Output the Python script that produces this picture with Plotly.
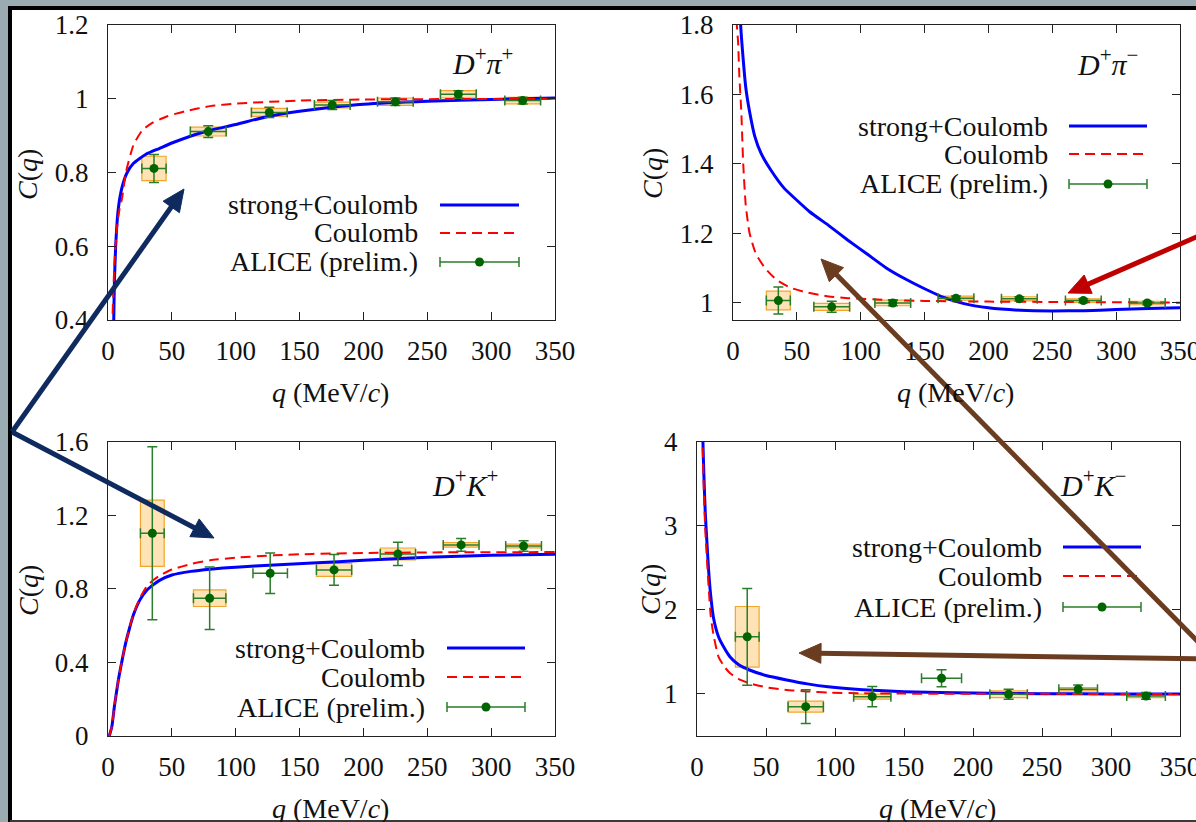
import math
import plotly.graph_objects as go

W, H = 1196, 822
FONT = "Liberation Serif"

# ---------------- data ----------------
x_ticks = [0, 50, 100, 150, 200, 250, 300, 350]

# D+ pi+
pp_q = [36, 78.5, 126.3, 175.6, 225, 274.3, 324.7]
pp_c = [0.811, 0.911, 0.963, 0.983, 0.992, 1.012, 0.995]
pp_qerr = [9.5, 14, 14, 14, 14, 14, 14]
pp_cerr = [0.038, 0.016, 0.014, 0.012, 0.01, 0.01, 0.009]
pp_csys = [0.033, 0.012, 0.011, 0.008, 0.01, 0.01, 0.009]
pp_strong_q = [4, 4.5, 5, 6, 8, 11, 15, 20, 30, 40, 50, 75, 100, 125, 150, 175, 200, 250, 300, 350]
pp_strong_c = [0.2, 0.4, 0.5, 0.6, 0.7, 0.76, 0.8, 0.825, 0.85, 0.865, 0.88, 0.91, 0.93, 0.952, 0.966, 0.977, 0.985, 0.993, 0.998, 1.002]
pp_coul_q = [3, 3.5, 5, 7, 9, 11, 14, 20, 27, 35, 46, 60, 80, 100, 150, 200, 350]
pp_coul_c = [0.2, 0.4, 0.55, 0.65, 0.7, 0.73, 0.8, 0.875, 0.915, 0.935, 0.952, 0.966, 0.98, 0.987, 0.995, 0.998, 1.0]
pp_yticks = [0.4, 0.6, 0.8, 1.0, 1.2]
pp_ylabels = ["0.4", "0.6", "0.8", "1", "1.2"]

# D+ pi-
pm_q = [35.5, 77.3, 125.1, 174.6, 224.2, 274.3, 324.4]
pm_c = [1.006, 0.988, 0.999, 1.013, 1.011, 1.006, 0.999]
pm_qerr = [9.4, 14, 14, 14, 14, 14, 14]
pm_cerr = [0.039, 0.016, 0.008, 0.006, 0.006, 0.006, 0.005]
pm_csys = [0.027, 0.01, 0.008, 0.006, 0.006, 0.005, 0.005]
pm_strong_q = [5, 6, 8, 10, 13, 17, 22, 30, 40, 50, 60, 75, 90, 105, 120, 135, 150, 165, 180, 200, 225, 250, 275, 300, 325, 350]
pm_strong_c = [2.0, 1.8, 1.7, 1.62, 1.55, 1.48, 1.43, 1.38, 1.33, 1.295, 1.262, 1.222, 1.18, 1.14, 1.10, 1.068, 1.04, 1.015, 0.998, 0.985, 0.978, 0.976, 0.977, 0.98, 0.983, 0.985]
pm_coul_q = [2.5, 3, 4, 5, 6.5, 8, 10, 13, 18, 25, 34, 45, 57, 75, 90, 120, 150, 200, 250, 350]
pm_coul_c = [2.0, 1.8, 1.75, 1.65, 1.55, 1.4, 1.28, 1.2, 1.14, 1.1, 1.066, 1.043, 1.03, 1.018, 1.013, 1.008, 1.005, 1.003, 1.002, 1.0]
pm_yticks = [1.0, 1.2, 1.4, 1.6, 1.8]
pm_ylabels = ["1", "1.2", "1.4", "1.6", "1.8"]

# D+ K+
kp_q = [34.7, 79.6, 127, 177, 227, 276.5, 325.4]
kp_c = [1.102, 0.749, 0.885, 0.903, 0.99, 1.039, 1.033]
kp_qerr = [9.3, 12.7, 13.5, 13.8, 13.8, 14, 14]
kp_cerr = [0.47, 0.17, 0.11, 0.084, 0.063, 0.035, 0.028]
kp_csys = [0.18, 0.045, None, 0.035, 0.032, 0.012, 0.01]
kp_strong_q = [1, 3, 5, 8, 11, 14, 17, 20, 25, 30, 35, 40, 50, 65, 80, 100, 130, 160, 200, 250, 300, 350]
kp_strong_c = [0, 0.05, 0.16, 0.3, 0.41, 0.51, 0.59, 0.66, 0.74, 0.79, 0.82, 0.845, 0.875, 0.895, 0.907, 0.918, 0.93, 0.94, 0.955, 0.972, 0.982, 0.988]
kp_coul_q = [1, 3, 5, 8, 11, 14, 17, 20, 25, 30, 35, 40, 50, 65, 80, 100, 130, 160, 200, 250, 350]
kp_coul_c = [0, 0.05, 0.16, 0.3, 0.41, 0.51, 0.59, 0.665, 0.75, 0.81, 0.845, 0.87, 0.905, 0.935, 0.955, 0.97, 0.982, 0.99, 0.995, 0.998, 1.0]
kp_yticks = [0, 0.4, 0.8, 1.2, 1.6]
kp_ylabels = ["0", "0.4", "0.8", "1.2", "1.6"]

# D+ K-
km_q = [36.4, 78.8, 127, 177.2, 225.8, 276.2, 325.4]
km_c = [1.68, 0.849, 0.968, 1.187, 0.996, 1.056, 0.976]
km_qerr = [8.6, 12.8, 13.5, 14.5, 13.6, 14, 14]
km_cerr = [0.575, 0.2, 0.12, 0.1, 0.06, 0.05, 0.04]
km_csys = [0.36, 0.065, 0.03, None, 0.04, 0.02, 0.02]
km_strong_q = [4, 4.3, 5, 6, 7.2, 8.5, 10, 12, 15.6, 20, 24, 30, 38, 50, 65, 80, 95, 120, 150, 200, 250, 300, 350]
km_strong_c = [4.5, 4.0, 3.6, 3.15, 2.8, 2.45, 2.16, 1.9, 1.68, 1.54, 1.44, 1.35, 1.285, 1.22, 1.167, 1.12, 1.085, 1.05, 1.027, 1.01, 1.003, 1.0, 1.0]
km_coul_q = [3.7, 4, 5, 6, 7.2, 8.5, 10, 12, 15.6, 20, 24, 30, 38, 50, 65, 80, 95, 120, 150, 200, 350]
km_coul_c = [4.5, 4.0, 3.4, 2.95, 2.6, 2.25, 1.92, 1.7, 1.44, 1.32, 1.246, 1.18, 1.127, 1.08, 1.048, 1.03, 1.016, 1.008, 1.004, 1.002, 1.0]
km_yticks = [1, 2, 3, 4]
km_ylabels = ["1", "2", "3", "4"]

# ---------------- styling ----------------
BLUE = "#0000ff"
RED = "#ff0000"
GREEN = "#2a7d2a"
DOT = "#006400"
BOX_FILL = "rgba(252,200,110,0.5)"
BOX_LINE = "#f2a52a"
BG = "#9aabb2"
TXT = "#111111"


def fx(p):
    return p / W


def fy(p):
    return 1 - p / H


panels = [
    dict(n="", xd=(108, 555), yd=(25, 320), yr=[0.4, 1.2], yt=pp_yticks, yl=pp_ylabels,
         q=pp_q, c=pp_c, qe=pp_qerr, ce=pp_cerr, cs=pp_csys,
         sq=pp_strong_q, sc=pp_strong_c, cq=pp_coul_q, cc=pp_coul_c,
         title="<i>D</i><sup>+</sup><i>π</i><sup>+</sup>", tpos=(482, 61),
         leg=dict(tx=420, l0=440, l1=519, rows=(205, 233, 262)),
         ytit=(28, 174), xtit=(330, 392)),
    dict(n="2", xd=(733, 1180), yd=(25, 320), yr=[0.95, 1.8], yt=pm_yticks, yl=pm_ylabels,
         q=pm_q, c=pm_c, qe=pm_qerr, ce=pm_cerr, cs=pm_csys,
         sq=pm_strong_q, sc=pm_strong_c, cq=pm_coul_q, cc=pm_coul_c,
         title="<i>D</i><sup>+</sup><i>π</i><sup>−</sup>", tpos=(1107, 62),
         leg=dict(tx=1050, l0=1069, l1=1147, rows=(126, 154, 184)),
         ytit=(653, 174), xtit=(955, 392)),
    dict(n="3", xd=(108, 555), yd=(441.7, 736), yr=[0, 1.6], yt=kp_yticks, yl=kp_ylabels,
         q=kp_q, c=kp_c, qe=kp_qerr, ce=kp_cerr, cs=kp_csys,
         sq=kp_strong_q, sc=kp_strong_c, cq=kp_coul_q, cc=kp_coul_c,
         title="<i>D</i><sup>+</sup><i>K</i><sup>+</sup>", tpos=(465, 483),
         leg=dict(tx=427, l0=447, l1=525, rows=(648, 677, 707)),
         ytit=(28, 590), xtit=(330, 808)),
    dict(n="4", xd=(697, 1180), yd=(441.7, 736), yr=[0.5, 4], yt=km_yticks, yl=km_ylabels,
         q=km_q, c=km_c, qe=km_qerr, ce=km_cerr, cs=km_csys,
         sq=km_strong_q, sc=km_strong_c, cq=km_coul_q, cc=km_coul_c,
         title="<i>D</i><sup>+</sup><i>K</i><sup>−</sup>", tpos=(1093, 483),
         leg=dict(tx=1044, l0=1063, l1=1141, rows=(547, 576, 607)),
         ytit=(650, 590), xtit=(937, 808)),
]

fig = go.Figure()
layout = dict(
    width=W, height=H, autosize=False,
    margin=dict(l=0, r=0, t=0, b=0, pad=0),
    paper_bgcolor=BG, plot_bgcolor="rgba(0,0,0,0)",
    showlegend=False, barmode="overlay",
    font=dict(family=FONT, size=27, color=TXT),
)
shapes = [
    dict(type="rect", xref="paper", yref="paper", x0=fx(10), x1=1.05, y0=fy(821), y1=fy(8),
         fillcolor="white", line=dict(width=0), layer="below"),
    dict(type="line", xref="paper", yref="paper", x0=fx(10), x1=fx(10), y0=fy(822), y1=fy(6),
         line=dict(color="black", width=4), layer="below"),
    dict(type="line", xref="paper", yref="paper", x0=fx(8), x1=1.02, y0=fy(8), y1=fy(8),
         line=dict(color="black", width=4), layer="below"),
    dict(type="line", xref="paper", yref="paper", x0=fx(10), x1=1.02, y0=fy(821), y1=fy(821),
         line=dict(color="#3a3a3a", width=2), layer="below"),
]
annotations = []


def label(text, px, py, size, **kw):
    d = dict(text=text, x=fx(px), y=fy(py), xref="paper", yref="paper", showarrow=False,
             xanchor="center", yanchor="middle", font=dict(family=FONT, size=size, color=TXT))
    d.update(kw)
    annotations.append(d)


for p in panels:
    n = p["n"]
    xa, ya = "x" + n, "y" + n
    axis_common = dict(
        showline=True, linecolor="#222222", linewidth=1.3, mirror="allticks",
        ticks="inside", ticklen=8, tickwidth=1, tickcolor="#222222",
        showgrid=False, zeroline=False, automargin=False, ticklabeloverflow="allow",
        tickfont=dict(family=FONT, size=27, color=TXT),
    )
    layout["xaxis" + n] = dict(
        axis_common, domain=[fx(p["xd"][0]), fx(p["xd"][1])], range=[0, 350],
        tickvals=x_ticks, ticktext=[str(v) for v in x_ticks],
        anchor=ya, ticklabelstandoff=6,
    )
    layout["yaxis" + n] = dict(
        axis_common, domain=[fy(p["yd"][1]), fy(p["yd"][0])], range=p["yr"],
        tickvals=p["yt"], ticktext=p["yl"], anchor=xa, ticklabelstandoff=13,
    )

    # systematic boxes
    bq, bh, bb, bw = [], [], [], []
    for q, c, qe, s in zip(p["q"], p["c"], p["qe"], p["cs"]):
        if s is None:
            continue
        bq.append(q)
        bh.append(2 * s)
        bb.append(c - s)
        bw.append(2 * qe)
    fig.add_trace(go.Bar(x=bq, y=bh, base=bb, width=bw, xaxis=xa, yaxis=ya,
                         marker=dict(color=BOX_FILL, line=dict(color=BOX_LINE, width=1.2))))
    # curves
    fig.add_trace(go.Scatter(x=p["sq"], y=p["sc"], mode="lines", xaxis=xa, yaxis=ya,
                             line=dict(color=BLUE, width=3, shape="spline", smoothing=0.5)))
    fig.add_trace(go.Scatter(x=p["cq"], y=p["cc"], mode="lines", xaxis=xa, yaxis=ya,
                             line=dict(color=RED, width=2, dash="10px,6px", shape="spline", smoothing=0.5)))
    # data points
    fig.add_trace(go.Scatter(
        x=p["q"], y=p["c"], mode="markers", xaxis=xa, yaxis=ya,
        marker=dict(color=DOT, size=9),
        error_x=dict(type="data", array=p["qe"], color=GREEN, thickness=1.5, width=5),
        error_y=dict(type="data", array=p["ce"], color=GREEN, thickness=1.5, width=5),
        cliponaxis=False,
    ))

    # panel label and axis titles
    label(p["title"], p["tpos"][0], p["tpos"][1], 30)
    label("<i>C</i>(<i>q</i>)", p["ytit"][0], p["ytit"][1], 28, textangle=-90)
    label("<i>q</i> (MeV/<i>c</i>)", p["xtit"][0], p["xtit"][1], 28)

    # legend (text right aligned, sample on the right)
    lg = p["leg"]
    labels = ["strong+Coulomb", "Coulomb", "ALICE (prelim.)"]
    for lab, row in zip(labels, lg["rows"]):
        label(lab, lg["tx"], row, 28, xanchor="right")
    r1, r2, r3 = lg["rows"]
    x0, x1 = fx(lg["l0"]), fx(lg["l1"])
    shapes.append(dict(type="line", xref="paper", yref="paper", x0=x0, x1=x1, y0=fy(r1), y1=fy(r1),
                       line=dict(color=BLUE, width=3)))
    shapes.append(dict(type="line", xref="paper", yref="paper", x0=x0, x1=x1, y0=fy(r2), y1=fy(r2),
                       line=dict(color=RED, width=2, dash="10px,6px")))
    shapes.append(dict(type="line", xref="paper", yref="paper", x0=x0, x1=x1, y0=fy(r3), y1=fy(r3),
                       line=dict(color=GREEN, width=1.5)))
    for cx in (x0, x1):
        shapes.append(dict(type="line", xref="paper", yref="paper", x0=cx, x1=cx,
                           y0=fy(r3 + 5), y1=fy(r3 - 5), line=dict(color=GREEN, width=1.5)))
    mid = fx((lg["l0"] + lg["l1"]) / 2)
    shapes.append(dict(type="circle", xref="paper", yref="paper",
                       xsizemode="pixel", ysizemode="pixel", xanchor=mid, yanchor=fy(r3),
                       x0=-4.5, x1=4.5, y0=-4.5, y1=4.5,
                       fillcolor=DOT, line=dict(color=DOT, width=0)))

# overlay arrows drawn as shapes (tip position, tail position, in px)
NAVY = "#0e2a5e"
BROWN = "#6b3d20"
arrows = [
    ((184, 189), (12, 432), NAVY),
    ((214, 538), (12, 432), NAVY),
    ((1068, 293), (1210, 231), "#c00000"),
    ((821, 259), (1210, 654), BROWN),
    ((799, 653), (1210, 659), BROWN),
]
HEAD_L, HEAD_W = 22, 10
for (tx, ty), (sx, sy), col in arrows:
    dx, dy = tx - sx, ty - sy
    d = math.hypot(dx, dy)
    ux, uy = dx / d, dy / d
    bx, by = tx - ux * HEAD_L, ty - uy * HEAD_L
    nx, ny = -uy, ux
    shapes.append(dict(type="line", xref="paper", yref="paper",
                       x0=fx(sx), y0=fy(sy), x1=fx(bx + ux * 3), y1=fy(by + uy * 3),
                       line=dict(color=col, width=5)))
    path = "M {:.5f},{:.5f} L {:.5f},{:.5f} L {:.5f},{:.5f} Z".format(
        fx(tx), fy(ty),
        fx(bx + nx * HEAD_W), fy(by + ny * HEAD_W),
        fx(bx - nx * HEAD_W), fy(by - ny * HEAD_W))
    shapes.append(dict(type="path", xref="paper", yref="paper", path=path,
                       fillcolor=col, line=dict(color=col, width=1)))

layout["shapes"] = shapes
layout["annotations"] = annotations
fig.update_layout(**layout)
fig.write_html("out.html", config={"displayModeBar": False},
               post_script="document.body.style.margin='0px';")
